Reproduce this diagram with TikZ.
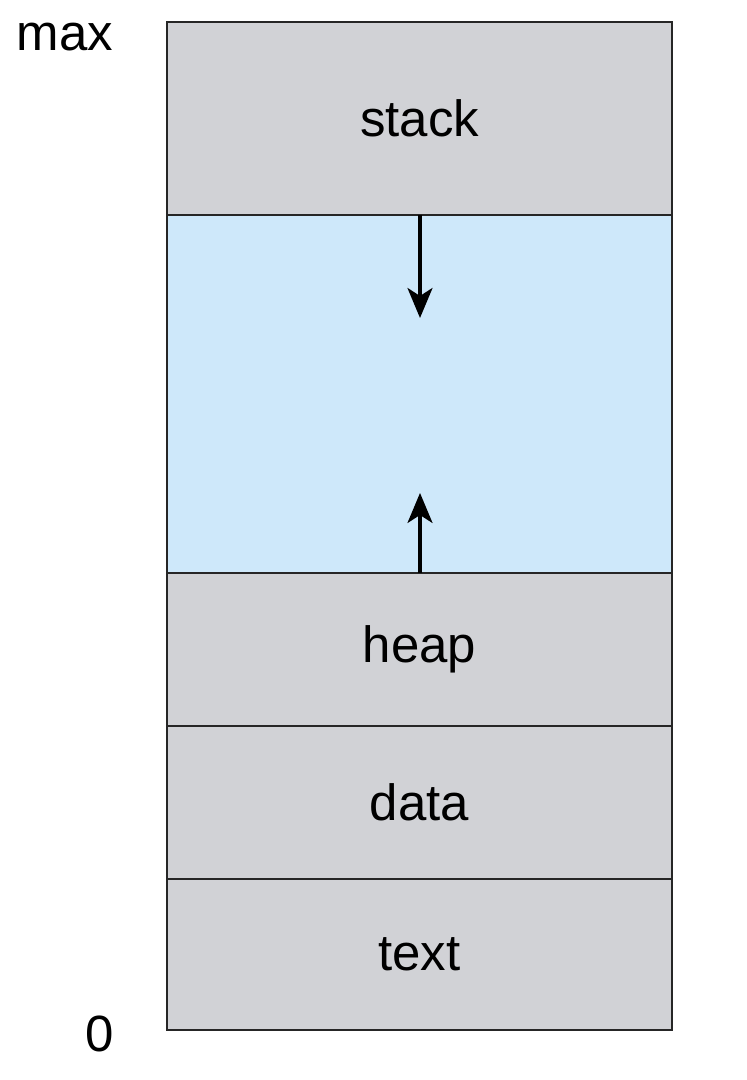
\documentclass[tikz,border=0pt]{standalone}
\usepackage{fontspec}
\setmainfont{Liberation Sans}
\usepackage{xcolor}
\usetikzlibrary{calc}
\usetikzlibrary{arrows.meta}

\definecolor{seggray}{RGB}{209,210,214}
\definecolor{segblue}{RGB}{206,232,250}

\begin{document}
\begin{tikzpicture}[
    every node/.style={font=\fontsize{29}{35}\selectfont},
    segment/.style={draw=black!85,line width=1.1pt},
    growarrow/.style={line width=1.8pt,-{Stealth[length=6mm,width=5mm,inset=1.6mm]}}
  ]
  \useasboundingbox (0,0) rectangle (14.92,21.6);
  \coordinate (top) at (3.34,21.16);
  \coordinate (st) at (13.44,17.30);
  \coordinate (fr) at (3.34,10.14);
  \coordinate (hp) at (13.44,7.08);
  \coordinate (dt) at (3.34,4.02);
  \coordinate (bot) at (13.44,1.00);
  \fill[seggray] (top) rectangle (st);
  \fill[segblue] (top|-st) rectangle (fr-|st);
  \fill[seggray] (fr) rectangle (bot);
  \draw[segment] (top) rectangle (bot) %
    (top|-st) -- (st) %
    (fr) -- (fr-|bot) %
    (top|-hp) -- (hp) %
    (dt) -- (dt-|bot);
  \node (stack) at ($(top)!0.5!(st)$) {stack};
  \node (heap) at ($(fr)!0.5!(hp)$) {heap};
  \node (data) at ($(top|-hp)!0.5!(dt-|bot)$) {data};
  \node (text) at ($(dt)!0.5!(bot)$) {text};
  \node (max) at (1.3,20.85) {max};
  \node (zero) at (2.0,0.92) {0};
  \coordinate (down) at (8.4,15.24);
  \coordinate (up) at (8.4,11.74);
  \draw[growarrow] (down|-st) -- (down);
  \draw[growarrow] (up|-fr) -- (up);
\end{tikzpicture}
\end{document}
